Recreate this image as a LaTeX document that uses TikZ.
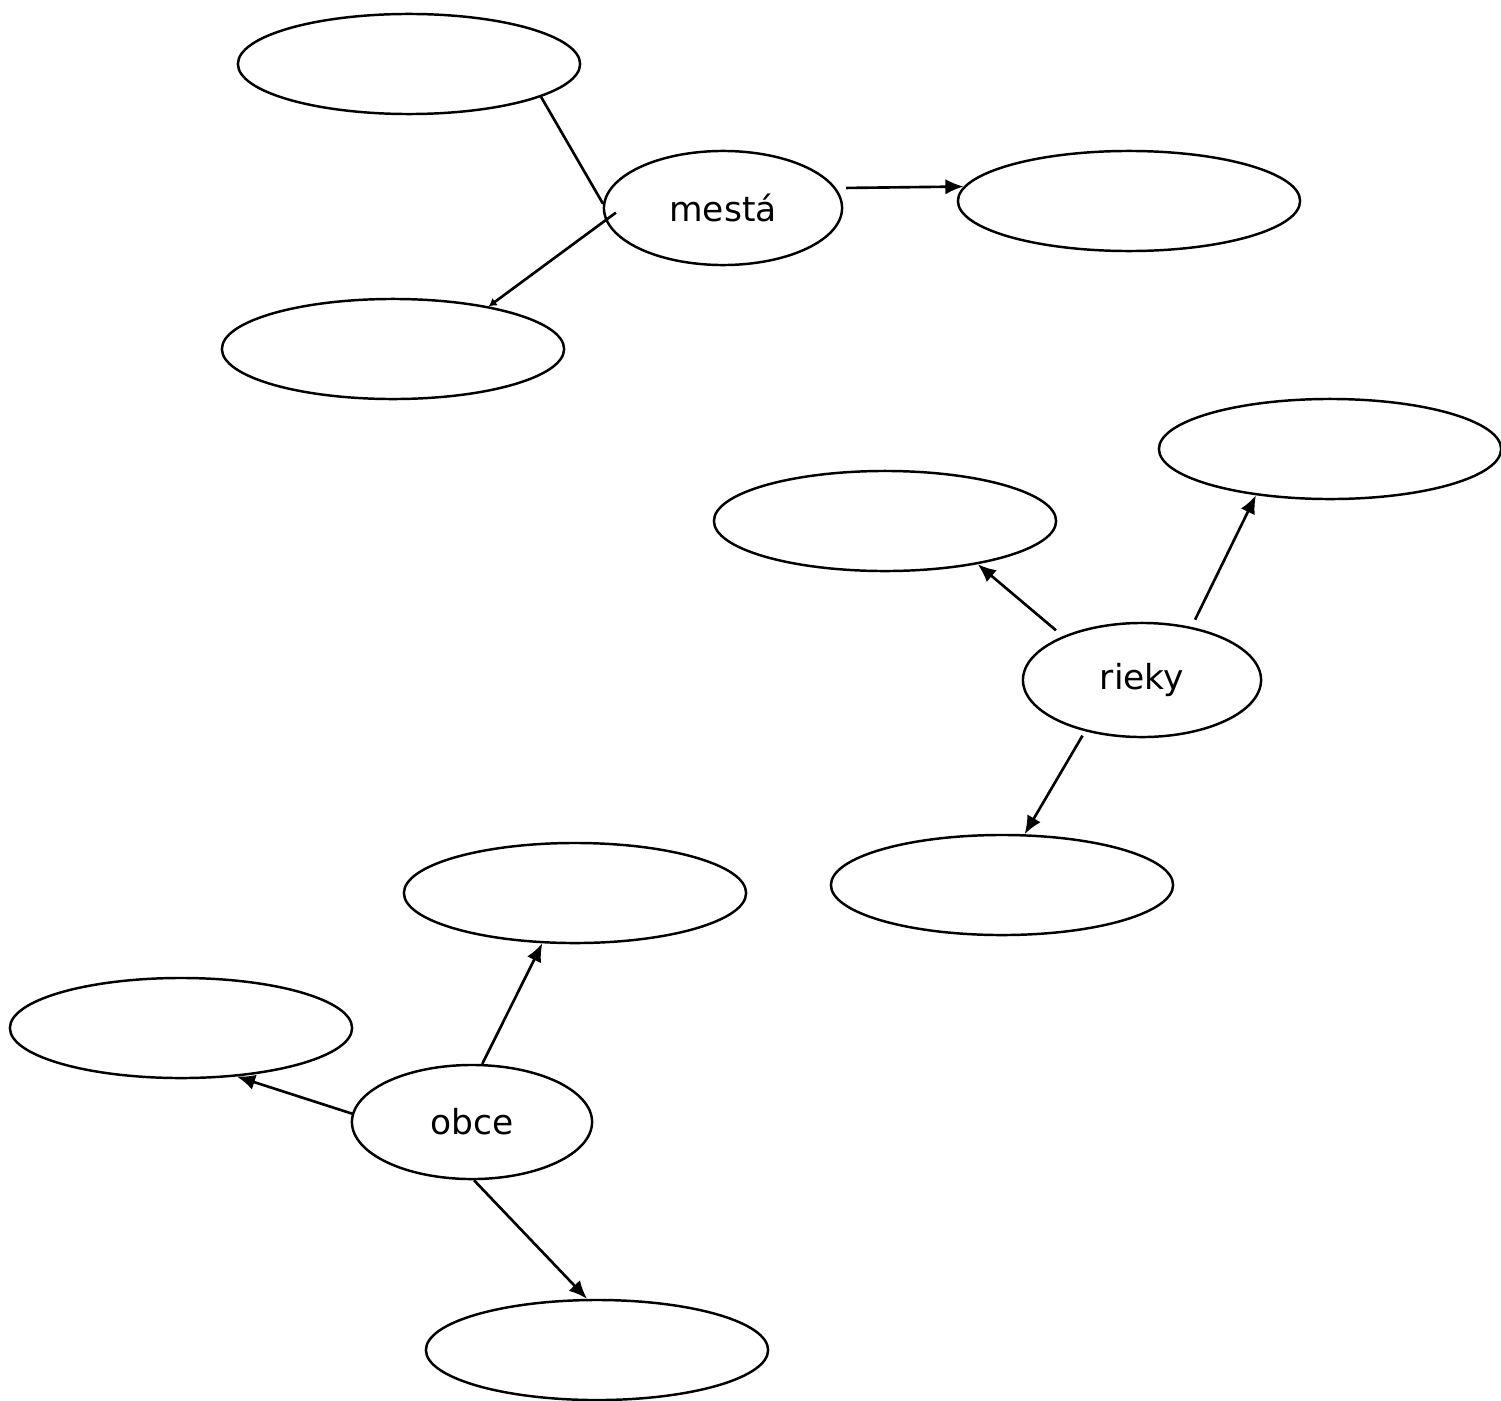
\documentclass[tikz,border=0pt]{standalone}
\usepackage{fontspec}
\setmainfont{DejaVu Sans}
\usetikzlibrary{arrows.meta,shapes.geometric}
\begin{document}
\begin{tikzpicture}[x=0.01cm,y=-0.01cm,
  blank/.style={draw,ellipse,line width=0.7pt,inner sep=0pt,minimum width=3.42cm,minimum height=1.0cm},
  hub/.style={draw,ellipse,line width=0.7pt,inner sep=0pt,minimum width=2.38cm,minimum height=1.14cm,font=\fontsize{9.8}{11}\selectfont},
  conn/.style={line width=0.75pt},
  arr/.style={line width=0.75pt,-{Latex[length=5.2pt,width=4.4pt]}},
  smallarr/.style={line width=0.75pt,-{Latex[length=2.2pt,width=2.6pt]}}]
\useasboundingbox (0,0) rectangle (1501,1400);
% mestá cluster
\node[blank] (mtop) at (409,64) {};
\node[hub] (mesta) at (723,208) {mestá};
\node[blank] (mright) at (1129,201) {};
\node[blank] (mleft) at (393,349) {};
\draw[conn] (mtop.-14) -- (mesta.178);
\draw[smallarr,shorten <=-0.13cm] (mesta.186) -- (mleft.24);
\draw[arr,shorten <=0.1cm] (mesta.10) -- (mright.175);
% rieky cluster
\node[blank] (rtl) at (885,521) {};
\node[blank] (rtr) at (1330,449) {};
\node[hub] (rieky) at (1142,680) {rieky};
\node[blank] (rbot) at (1002,885) {};
\draw[arr,shorten <=0.09cm] (rieky.151) -- (rtl.-25);
\draw[arr,shorten <=0.08cm] (rieky.47) -- (rtr.212);
\draw[arr,shorten <=0.05cm] (rieky.222) -- (rbot.66);
% obce cluster
\node[blank] (otop) at (575,893) {};
\node[blank] (oleft) at (181,1028) {};
\node[hub,minimum width=2.40cm] (obce) at (472,1122) {obce};
\node[blank] (obot) at (597,1350) {};
\draw[arr] (obce.80) -- (otop.237);
\draw[arr] (obce.176) -- (oleft.-41);
\draw[arr] (obce.-88) -- (obot.101);
\end{tikzpicture}
\end{document}
